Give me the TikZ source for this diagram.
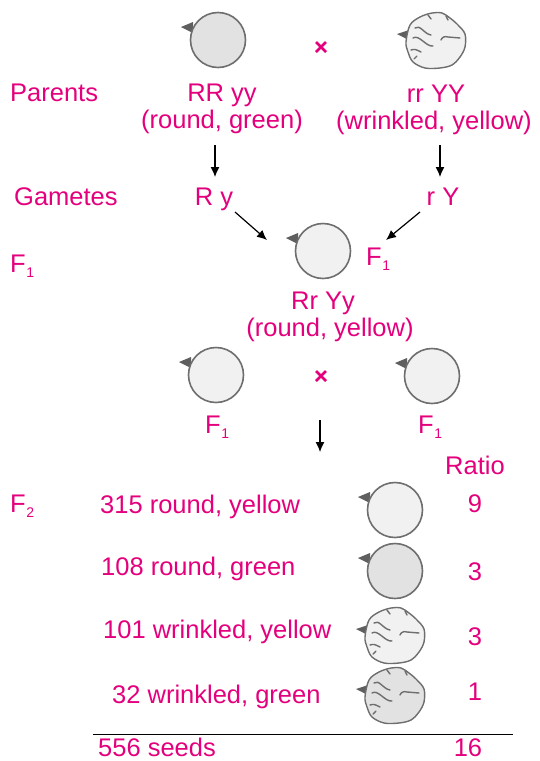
\documentclass[tikz,border=0pt]{standalone}
\usepackage{fontspec}
\setmainfont{Liberation Sans}
\usetikzlibrary{arrows.meta}
\definecolor{mag}{RGB}{228,0,124}
\definecolor{seededge}{RGB}{110,110,110}
\definecolor{nipcol}{RGB}{95,95,95}
\definecolor{yseed}{RGB}{241,241,241}
\definecolor{gseed}{RGB}{226,226,226}
\newcommand\Fsub[1]{F\kern0.5pt\raisebox{-5pt}{\fontsize{14}{14}\selectfont #1}}
\tikzset{
  lbl/.style={text=mag, font=\fontsize{25.5}{28}\selectfont, inner sep=0pt},
  arr/.style={-{Latex[length=10pt,width=9pt]}, line width=1.2pt, black},
  seed/.style={circle, draw=seededge, line width=1.6pt, minimum size=55pt, inner sep=0pt},
  crossmark/.style={mag, line width=2.6pt},
  nip/.pic={\fill[nipcol] (-37,-13) -- (-25,-18) -- (-25,-7) -- cycle;},
  wnip/.pic={\fill[nipcol] (-39,-6) -- (-27,-10) -- (-27,0) -- cycle;},
  wrinkle/.style={draw=seededge, line width=1.4pt, line cap=round},
  wrinkled/.pic={
    \pic {wnip};
    \path[wrinkle, fill=#1] plot[smooth cycle, tension=0.55] coordinates {
      (-26,-15) (-16,-23) (-4,-27) (6,-27) (14,-22) (22,-15) (29,-6)
      (29,7) (24,17) (16,25) (4,28) (-11,28) (-23,22) (-28,12) (-30,2)};
    \draw[wrinkle] (-21,-12) .. controls (-16,-16) and (-12,-6) .. (-5,-5);
    \draw[wrinkle] (-23,-2) .. controls (-17,-6) and (-10,7) .. (-3,6);
    \draw[wrinkle] (-25,10) .. controls (-21,9) .. (-15,12);
    \draw[wrinkle] (5,0) .. controls (6,-3) and (9,-4) .. (12,-3) -- (24,-2);
    \draw[wrinkle] (-8,-25) -- (-5,-21);
    \draw[wrinkle] (10,-24) -- (12,-20);
    \draw[wrinkle] (-22,19) -- (-19,16);
  },
}
\begin{document}
\begin{tikzpicture}[x=1pt,y=-1pt]
\useasboundingbox (0,0) rectangle (539,761);

% parents
\pic at (218,40) {nip};
\node[seed, fill=gseed] (pg) at (218,40) {};
\pic at (436,40) {wrinkled=yseed};
\draw[crossmark] (316,42) -- (326,52) (316,52) -- (326,42);

\node[lbl, anchor=base west] (parents) at (10,101) {Parents};
\node[lbl, anchor=base] (pgt) at (222,101) {RR yy};
\node[lbl, anchor=base] (pgd) at (222,128) {(round, green)};
\node[lbl, anchor=base] (pwt) at (436,102) {rr YY};
\node[lbl, anchor=base] (pwd) at (434,129) {(wrinkled, yellow)};

% gametes
\node[lbl, anchor=base west] (gametes) at (14,205) {Gametes};
\node[lbl, anchor=base] (gry) at (214,205) {R y};
\node[lbl, anchor=base] (grY) at (443,205) {r Y};
\coordinate (a1s) at (215,145); \coordinate (a1e) at (215,177);
\coordinate (a2s) at (440,145); \coordinate (a2e) at (440,177);
\draw[arr] (a1s) -- (a1e);
\draw[arr] (a2s) -- (a2e);

% F1
\node[lbl, anchor=base west] (f1lbl) at (10,272) {\Fsub{1}};
\pic at (323,251) {nip};
\node[seed, fill=yseed] (f1) at (323,251) {};
\node[lbl, anchor=base west] (f1r) at (366,265) {\Fsub{1}};
\coordinate (d1s) at (235,212); \coordinate (d1e) at (267,240);
\coordinate (d2s) at (420,212); \coordinate (d2e) at (386,240);
\draw[arr] (d1s) -- (d1e);
\draw[arr] (d2s) -- (d2e);
\node[lbl, anchor=base] (f1g) at (323,309) {Rr Yy};
\node[lbl, anchor=base] (f1p) at (330,336) {(round, yellow)};

% F1 x F1
\pic at (216,375) {nip};
\node[seed, fill=yseed] (fa) at (216,375) {};
\pic at (432,376) {nip};
\node[seed, fill=yseed] (fb) at (432,376) {};
\draw[crossmark] (316,371) -- (326,381) (316,381) -- (326,371);
\node[lbl, anchor=base west] (fal) at (205,433) {\Fsub{1}};
\node[lbl, anchor=base west] (fbl) at (418,433) {\Fsub{1}};
\coordinate (ds) at (320,420); \coordinate (de) at (320,452);
\draw[arr] (ds) -- (de);

% F2
\node[lbl, anchor=base] (ratio) at (475,474) {Ratio};
\node[lbl, anchor=base west] (f2lbl) at (10,512) {\Fsub{2}};

\node[lbl, anchor=base west] (r1) at (100,513) {315 round, yellow};
\pic at (395,510) {nip};
\node[seed, fill=yseed] (s1) at (395,510) {};
\node[lbl, anchor=base] (q1) at (475,512) {9};

\node[lbl, anchor=base west] (r2) at (101,575) {108 round, green};
\pic at (395,571) {nip};
\node[seed, fill=gseed] (s2) at (395,571) {};
\node[lbl, anchor=base] (q2) at (475,580) {3};

\node[lbl, anchor=base west] (r3) at (103,638) {101 wrinkled, yellow};
\pic at (395,635) {wrinkled=yseed};
\node[lbl, anchor=base] (q3) at (475,645) {3};

\node[lbl, anchor=base west] (r4) at (112,703) {32 wrinkled, green};
\pic at (395,695) {wrinkled=gseed};
\node[lbl, anchor=base] (q4) at (475,700) {1};

\coordinate (rl) at (93,734); \coordinate (rr) at (513,734);
\draw[line width=1pt] (rl) -- (rr);
\node[lbl, anchor=base west] (tot) at (98,756) {556 seeds};
\node[lbl, anchor=base] (q5) at (468,756) {16};
\end{tikzpicture}
\end{document}
